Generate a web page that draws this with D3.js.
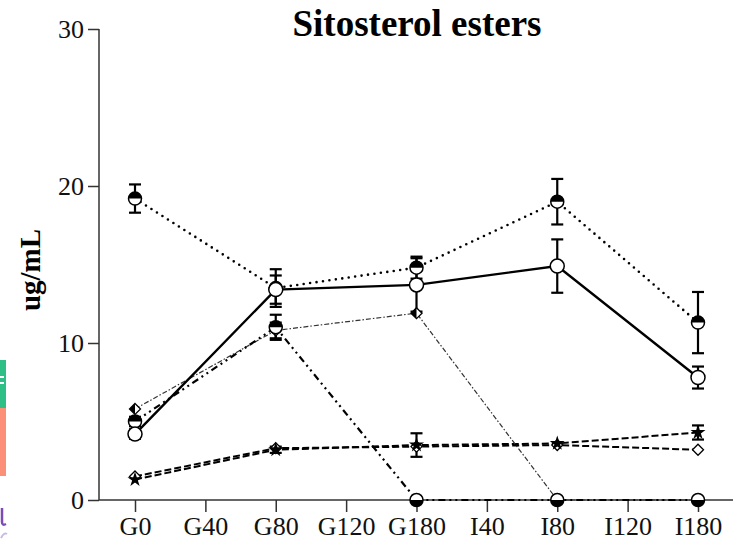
<!DOCTYPE html>
<html><head><meta charset="utf-8">
<script src="https://cdn.jsdelivr.net/npm/d3@7"></script>
<style>body{margin:0;background:#fff}svg{display:block}</style>
</head><body>
<svg id="c" width="733" height="547"></svg>
<script>
const categories = ["G0","G40","G80","G120","G180","I40","I80","I120","I180"];
const yTicks = [0,10,20,30];
const title = "Sitosterol esters";
const yLabel = "ug/mL";
// series values (null = not measured)
const solidOpen   = [4.2,null,13.4,null,13.7,null,14.9,null,7.8];
const solidOpenErr= [0.3,null,0.9,null,1.7,null,1.7,null,0.7];
const dottedHalf  = [19.2,null,13.5,null,14.8,null,19.0,null,11.3];
const dottedHalfErr=[0.9,null,1.2,null,0.7,null,1.45,null,1.95];
const dashDotHalf = [5.0,null,11.0,null,0,null,0,null,0];
const dashDotHalfErr=[0.3,null,0.8,null,0,null,0,null,0];
const thinDiamond = [5.8,null,10.8,null,11.9,null,0,null,0];
const thinDiamondErr=[0,null,0.5,null,0,null,0,null,0];
const dashStar    = [1.3,null,3.2,null,3.5,null,3.6,null,4.3];
const dashStarErr = [0,null,0.2,null,0.75,null,0,null,0.45];
const dashDiamond = [1.5,null,3.3,null,3.4,null,3.5,null,3.2];

const svg = d3.select("#c");
const x = d3.scalePoint().domain(categories).range([135,698]);
const y = d3.scaleLinear().domain([0,30]).range([500,29]);
const serif = "'Liberation Serif','Times New Roman',serif";

// cropped neighbour artifacts at left edge
svg.append("rect").attr("x",0).attr("y",360).attr("width",6).attr("height",48).attr("fill","#2dbf86");
svg.append("rect").attr("x",0).attr("y",408).attr("width",6).attr("height",68).attr("fill","#fb8f78");
svg.append("rect").attr("x",0).attr("y",376).attr("width",4).attr("height",2).attr("fill","#fff");
svg.append("rect").attr("x",0).attr("y",382).attr("width",4).attr("height",2).attr("fill","#fff");
svg.append("path").attr("d","M2,508 L2,522 Q2,526 6,524").attr("fill","none").attr("stroke","#7d4bb5").attr("stroke-width",2.5);
svg.append("path").attr("d","M1,538 Q4,532 7,534").attr("fill","none").attr("stroke","#c9b9e6").attr("stroke-width",2);

// axes
const yAxis = svg.append("g").attr("transform","translate(99,0)")
  .call(d3.axisLeft(y).tickValues(yTicks).tickSize(11).tickPadding(4).tickFormat(d3.format("d")));
const xAxis = svg.append("g").attr("transform","translate(0,500)")
  .call(d3.axisBottom(x).tickSize(12).tickPadding(5));
xAxis.select(".domain").attr("d","M99,0H733");
[yAxis,xAxis].forEach(g=>{
  g.attr("font-family",serif).attr("font-size",26);
  g.selectAll("path,line").attr("stroke","#333").attr("stroke-width",1.5);
  g.selectAll("text").attr("font-family",serif).attr("font-size",26).attr("fill","#111");
});
yAxis.select(".domain").attr("d","M0,500V29");

svg.append("text").attr("x",417).attr("y",36).attr("text-anchor","middle")
  .attr("font-family",serif).attr("font-weight","bold").attr("font-size",37).text(title);
svg.append("text").attr("transform","translate(40,270) rotate(-90)").attr("text-anchor","middle")
  .attr("font-family",serif).attr("font-weight","bold").attr("font-size",29).text(yLabel);

function pts(vals){return vals.map((v,i)=>({c:categories[i],v})).filter(d=>d.v!=null);}
function drawLine(vals,opts){
  const p = pts(vals);
  svg.append("path").datum(p).attr("fill","none").attr("stroke",opts.color||"#000")
    .attr("stroke-width",opts.w).attr("stroke-dasharray",opts.dash||null)
    .attr("stroke-linecap",opts.cap||"butt")
    .attr("d",d3.line().x(d=>x(d.c)).y(d=>y(d.v)));
}
function drawErr(vals,errs){
  pts(vals).forEach(d=>{
    const e = errs[categories.indexOf(d.c)];
    if(!e) return;
    const cx=x(d.c), t=y(d.v+e), b=y(d.v-e);
    const g=svg.append("g").attr("stroke","#000").attr("stroke-width",2.2);
    g.append("line").attr("x1",cx).attr("x2",cx).attr("y1",t).attr("y2",b);
    g.append("line").attr("x1",cx-6).attr("x2",cx+6).attr("y1",t).attr("y2",t);
    g.append("line").attr("x1",cx-6).attr("x2",cx+6).attr("y1",b).attr("y2",b);
  });
}
function halfCircle(vals,flipZero){
  pts(vals).forEach(d=>{
    const cx=x(d.c), cy=y(d.v), r=6.5;
    const g=svg.append("g");
    g.append("circle").attr("cx",cx).attr("cy",cy).attr("r",r).attr("fill","#fff").attr("stroke","#000").attr("stroke-width",1.5);
    const top = !(flipZero && d.v===0);
    g.append("path").attr("d", top
      ? `M${cx-r},${cy} A${r},${r} 0 0 1 ${cx+r},${cy} Z`
      : `M${cx-r},${cy} A${r},${r} 0 0 0 ${cx+r},${cy} Z`).attr("fill","#000");
  });
}
function openCircle(vals){
  pts(vals).forEach(d=>{
    svg.append("circle").attr("cx",x(d.c)).attr("cy",y(d.v)).attr("r",7).attr("fill","#fff").attr("stroke","#000").attr("stroke-width",1.5);
  });
}
function diamond(vals,half){
  pts(vals).forEach(d=>{
    if(half && d.v===0) return;
    const cx=x(d.c), cy=y(d.v), r=5.5;
    svg.append("path").attr("d",`M${cx},${cy-r}L${cx+r},${cy}L${cx},${cy+r}L${cx-r},${cy}Z`)
      .attr("fill","#fff").attr("stroke","#000").attr("stroke-width",1.3);
    if(half) svg.append("path").attr("d",`M${cx},${cy-r}L${cx-r},${cy}L${cx},${cy+r}Z`).attr("fill","#000");
  });
}
function star(vals){
  pts(vals).forEach(d=>{
    svg.append("path").attr("transform",`translate(${x(d.c)},${y(d.v)})`)
      .attr("d",d3.symbol(d3.symbolStar,70)()).attr("fill","#000");
  });
}

drawLine(dashDiamond,{w:2,dash:"7,3"});
drawLine(dashStar,{w:2,dash:"7,3"});
drawLine(thinDiamond,{w:1.2,dash:"5,2,1.5,2",color:"#333"});
drawLine(dashDotHalf,{w:2.2,dash:"7,4,2,4,2,4"});
drawLine(dottedHalf,{w:2.6,dash:"0,6.5",cap:"round"});
drawLine(solidOpen,{w:2.4});

[[dashStar,dashStarErr],[thinDiamond,thinDiamondErr],[dashDotHalf,dashDotHalfErr],[dottedHalf,dottedHalfErr],[solidOpen,solidOpenErr]]
  .forEach(([v,e])=>drawErr(v,e));

diamond(dashDiamond,false);
star(dashStar);
diamond(thinDiamond,true);
halfCircle(dashDotHalf,true);
halfCircle(dottedHalf,false);
openCircle(solidOpen);
</script>
</body></html>
